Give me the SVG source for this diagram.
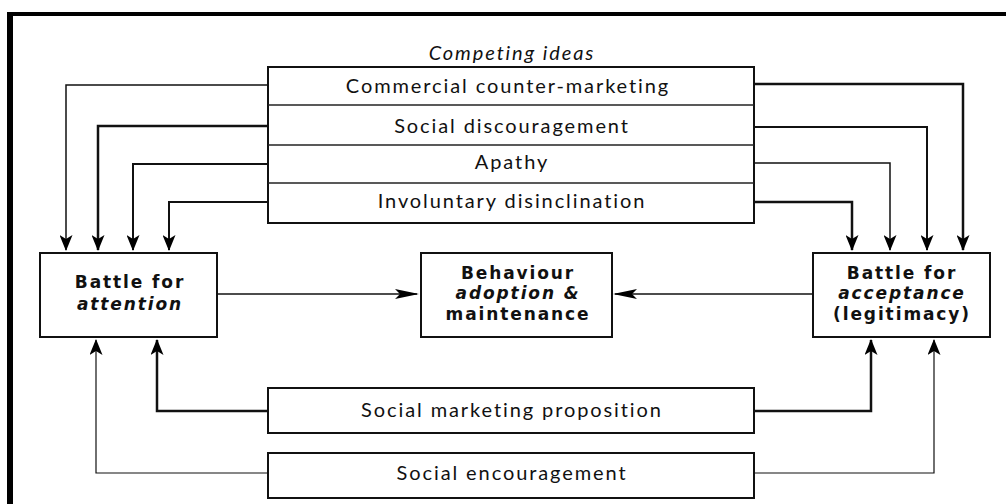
<svg xmlns="http://www.w3.org/2000/svg" width="1006" height="504" viewBox="0 0 1006 504">
<style>
.box{fill:#fff;stroke:#111;stroke-width:2}
.row{fill:none;stroke:#222;stroke-width:1.5}
.t{font-family:Lato,"Open Sans",sans-serif;font-size:20px;letter-spacing:1.9px;fill:#111;text-anchor:middle}
.b{font-family:"DejaVu Sans",Lato,sans-serif;font-size:17px;letter-spacing:1.9px;font-weight:bold;fill:#111;text-anchor:middle}
.i{font-style:italic}
.c{fill:none;stroke:#111}
</style>
<defs>
<marker id="ad" markerUnits="userSpaceOnUse" markerWidth="16" markerHeight="13" refX="15" refY="6.5" orient="auto" viewBox="0 0 16 13">
<path d="M0,0 L4,6.5 L0,13 L16,6.5 Z" fill="#000"/>
</marker>
<marker id="ah" markerUnits="userSpaceOnUse" markerWidth="24" markerHeight="10" refX="22" refY="5" orient="auto" viewBox="0 0 24 10">
<path d="M0,0 L24,5 L0,10 L5,5 Z" fill="#000"/>
</marker>
</defs>
<rect width="1006" height="504" fill="#fff"/>
<g id="frame">
<rect x="7" y="12" width="999" height="4" fill="#000"/>
<rect x="7" y="12" width="6" height="492" fill="#000"/>
</g>
<g id="competing-title"><text class="t i" x="512" y="60" font-size="17" letter-spacing="1.5">Competing ideas</text></g>
<g id="competing-stack">
<rect class="box" x="268" y="67" width="486" height="156"/>
<line class="row" x1="268" y1="105" x2="754" y2="105"/>
<line class="row" x1="268" y1="145" x2="754" y2="145"/>
<line class="row" x1="268" y1="183" x2="754" y2="183"/>
</g>
<g id="commercial"><text class="t" x="508" y="93">Commercial counter-marketing</text></g>
<g id="social-discouragement"><text class="t" x="512" y="133">Social discouragement</text></g>
<g id="apathy"><text class="t" x="512" y="169">Apathy</text></g>
<g id="involuntary"><text class="t" x="512" y="208">Involuntary disinclination</text></g>
<g id="attention">
<rect class="box" x="40" y="253" width="177" height="84"/>
<text class="b" x="130" y="288">Battle for</text>
<text class="b i" x="130" y="310">attention</text>
</g>
<g id="behaviour">
<rect class="box" x="421" y="253" width="191" height="84"/>
<text class="b" x="518" y="279">Behaviour</text>
<text class="b i" x="518" y="299">adoption &amp;</text>
<text class="b" x="518" y="320">maintenance</text>
</g>
<g id="acceptance">
<rect class="box" x="813" y="253" width="177" height="84"/>
<text class="b" x="902" y="279">Battle for</text>
<text class="b i" x="902" y="299">acceptance</text>
<text class="b" x="902" y="320">(legitimacy)</text>
</g>
<g id="proposition">
<rect class="box" x="268" y="388" width="486" height="45"/>
<text class="t" x="512" y="417">Social marketing proposition</text>
</g>
<g id="encouragement">
<rect class="box" x="268" y="453" width="486" height="45"/>
<text class="t" x="512" y="480">Social encouragement</text>
</g>
<g id="connectors">
<polyline class="c" stroke-width="1.5" points="268,85 66,85 66,250" marker-end="url(#ad)"/>
<polyline class="c" stroke-width="2.5" points="268,126 98,126 98,250" marker-end="url(#ad)"/>
<polyline class="c" stroke-width="2" points="268,164 133,164 133,250" marker-end="url(#ad)"/>
<polyline class="c" stroke-width="2" points="268,202 169,202 169,250" marker-end="url(#ad)"/>
<polyline class="c" stroke-width="2.5" points="754,84 963,84 963,250" marker-end="url(#ad)"/>
<polyline class="c" stroke-width="2" points="754,127 927,127 927,250" marker-end="url(#ad)"/>
<polyline class="c" stroke-width="1.5" points="754,163 890,163 890,250" marker-end="url(#ad)"/>
<polyline class="c" stroke-width="2.5" points="754,202 852,202 852,250" marker-end="url(#ad)"/>
<line class="c" stroke-width="1.5" x1="217" y1="294" x2="417" y2="294" marker-end="url(#ah)"/>
<line class="c" stroke-width="1.5" x1="813" y1="294" x2="615" y2="294" marker-end="url(#ah)"/>
<polyline class="c" stroke-width="2.5" points="268,411 157,411 157,340" marker-end="url(#ad)"/>
<polyline class="c" stroke-width="2.5" points="754,411 871,411 871,340" marker-end="url(#ad)"/>
<polyline class="c" stroke="#444" stroke-width="1.2" points="268,473 96,473 96,340" marker-end="url(#ad)"/>
<polyline class="c" stroke="#444" stroke-width="1.2" points="754,473 934,473 934,340" marker-end="url(#ad)"/>
</g>
</svg>
